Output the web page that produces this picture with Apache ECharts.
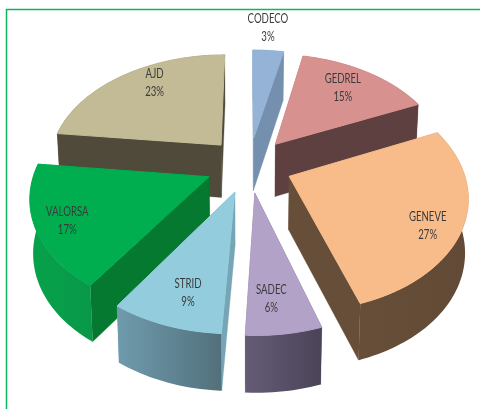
<!DOCTYPE html>
<html>
<head>
<meta charset="utf-8">
<style>html,body{margin:0;padding:0;background:#fff}#c{width:480px;height:409px}</style>
<script src="https://cdn.jsdelivr.net/npm/echarts@6/dist/echarts.min.js"></script>
</head>
<body>
<div id="c"></div>
<script>
// Data (shares; labels show them rounded)
const categories = ['CODECO', 'GEDREL', 'GENEVE', 'SADEC', 'STRID', 'VALORSA', 'AJD'];
const shares = [3.4, 14.9, 26.7, 5.8, 8.6, 17.4, 23.2];

// Styles
const topColors = ['#95B3D7', '#D79290', '#F7BC8A', '#B3A2C7', '#93CDDD', '#00AE50', '#C2BB95'];
const radialColors = ['#7590AE', '#5E4041', '#674E38', '#4F4860', '#76A5B5', '#04792F', '#4F4A3A'];
const wallColors = [
  ['#7590AE', '#7590AE'], ['#5E4041', '#5E4041'], ['#674E38', '#634A36'],
  ['#655B76', '#4A4458'], ['#6F9BAD', '#52707B'], ['#07A24B', '#089848'], ['#4F4A3A', '#4F4A3A']
];
const paintRank = [0, 2, 3, 6, 5, 4, 1];
const labelRadial = [1.3, 0.75, 0.83, 0.78, 0.78, 0.83, 0.8];
const labelTurn = [-1.3, -2, 5.6, 2, -2, -1, 7.4];

// 3-D projection of the pie plane
const view = { cx: 249, cy: 165, a: 173, b: 110, k: 0.156, explode: 0.25, depth: 53, depthPersp: 3.5, converge: 0.015 };

function project(u, v) {
  const w = 1 - view.k * v;
  return [view.cx + view.a * u / w, view.cy + view.b * v / w];
}
function drop(u, v) {
  const p = project(u, v);
  return [p[0] - (p[0] - view.cx) * view.converge, p[1] + view.depth + view.depthPersp * v];
}
const rad = d => d * Math.PI / 180;

const total = shares.reduce((s, x) => s + x, 0);
let running = 0;
const spans = shares.map(s => {
  const from = running / total * 360;
  running += s;
  return [from, running / total * 360];
});

function renderSlice(params, api) {
  const i = params.dataIndex;
  const val = api.value(0);
  const from = spans[i][0], to = spans[i][1], mid = (from + to) / 2;
  const ex = view.explode * Math.sin(rad(mid)), ey = -view.explode * Math.cos(rad(mid));
  const at = (r, deg) => [ex + r * Math.sin(rad(deg)), ey - r * Math.cos(rad(deg))];
  const arc = [];
  const n = Math.max(6, Math.round((to - from) / 1.5));
  for (let j = 0; j <= n; j++) arc.push(at(1, from + (to - from) * j / n));
  const top = [[ex, ey]].concat(arc).map(q => project(q[0], q[1]));
  const wall = arc.map(q => project(q[0], q[1]))
    .concat(arc.slice().reverse().map(q => drop(q[0], q[1])));
  const face = q => [project(ex, ey), project(q[0], q[1]), drop(q[0], q[1]), drop(ex, ey)];
  const base = paintRank[i] * 10;
  const poly = (points, fill, z, lw) => ({
    type: 'polygon', z2: base + z,
    shape: { points: points },
    style: { fill: fill, stroke: fill.colorStops ? fill.colorStops[0].color : fill, lineWidth: lw }
  });
  const lp = at(labelRadial[i], mid + labelTurn[i]);
  const lpt = project(lp[0], lp[1]);
  return {
    type: 'group',
    children: [
      poly(face(arc[0]), radialColors[i], 1, 0.3),
      poly(face(arc[n]), radialColors[i], 1, 0.3),
      poly(wall, new echarts.graphic.LinearGradient(0, 0, 1, 0, [
        { offset: 0, color: wallColors[i][0] }, { offset: 1, color: wallColors[i][1] }
      ]), 2, 0),
      poly(top, topColors[i], 3, 1),
      {
        type: 'text', z2: 200,
        x: lpt[0], y: lpt[1],
        scaleX: 0.74,
        style: {
          text: categories[i] + '\n' + Math.round(val) + '%',
          fill: '#3a3a3a',
          font: '13px Lato, sans-serif',
          lineHeight: 18,
          align: 'center', verticalAlign: 'middle'
        }
      }
    ]
  };
}

const chart = echarts.init(document.getElementById('c'), null, { renderer: 'canvas' });
chart.setOption({
  animation: false,
  backgroundColor: '#fff',
  graphic: [{
    type: 'rect', silent: true, z: -1,
    shape: { x: 6.5, y: 9.5, width: 500, height: 440 },
    style: { fill: 'none', stroke: '#10B45C', lineWidth: 1.5 }
  }],
  series: [{
    type: 'custom',
    coordinateSystem: 'none',
    silent: true,
    data: shares.map(s => [s]),
    renderItem: renderSlice
  }]
});
</script>
</body>
</html>
